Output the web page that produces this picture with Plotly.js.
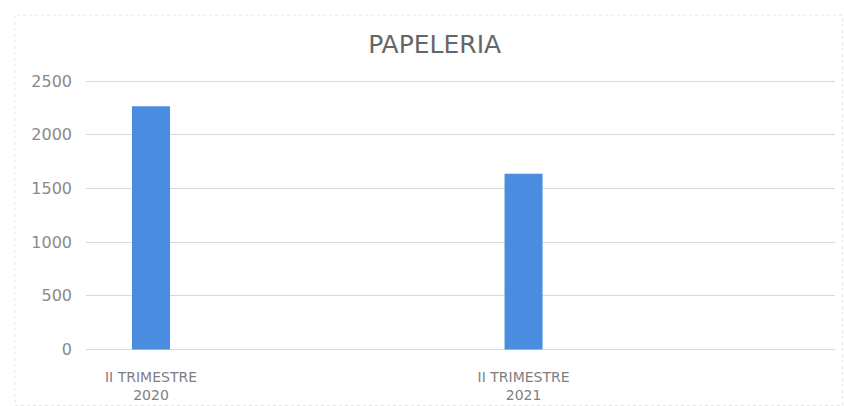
<!DOCTYPE html>
<html>
<head>
<meta charset="utf-8">
<script src="https://cdn.plot.ly/plotly-3.0.1.min.js"></script>
<style>html,body{margin:0;padding:0;background:#fff;}#chart{width:844px;height:406px;}</style>
</head>
<body>
<div id="chart"></div>
<script>
const categories = ['II TRIMESTRE<br>2020', 'II TRIMESTRE<br>2021'];
const values = [2265, 1637];
const yTicks = [0, 500, 1000, 1500, 2000, 2500];
const chartTitle = 'PAPELERIA';

const trace = {
  type: 'bar',
  x: categories,
  y: values,
  width: 0.102,
  marker: {color: '#4a8de0'},
  hoverinfo: 'x+y'
};

const layout = {
  width: 844,
  height: 406,
  paper_bgcolor: '#ffffff',
  plot_bgcolor: '#ffffff',
  margin: {l: 86, r: 9, t: 80, b: 56},
  showlegend: false,
  title: {
    text: chartTitle,
    font: {family: 'DejaVu Sans', size: 25, color: '#666666'},
    x: 0.515, xref: 'container', xanchor: 'center',
    y: 0.892, yref: 'container', yanchor: 'middle'
  },
  xaxis: {
    type: 'category',
    range: [-0.1745, 1.836],
    showgrid: false,
    zeroline: false,
    showline: false,
    ticks: '',
    ticklabelstandoff: 17,
    tickfont: {family: 'DejaVu Sans', size: 14, color: '#808080'}
  },
  yaxis: {
    range: [-5, 2510],
    tickvals: yTicks,
    ticktext: yTicks.map(String),
    showgrid: true,
    gridcolor: '#d9d9d9',
    gridwidth: 1,
    zeroline: true,
    zerolinecolor: '#d9d9d9',
    zerolinewidth: 1,
    showline: false,
    ticks: '',
    ticklabelstandoff: 13,
    tickfont: {family: 'DejaVu Sans', size: 16, color: '#8a8a8a'}
  },
  shapes: [{
    type: 'rect', xref: 'paper', yref: 'paper',
    x0: -0.095, x1: 1.01, y0: -0.205, y1: 1.24,
    line: {color: '#e6e6e6', width: 1, dash: 'dot'}
  }]
};

Plotly.newPlot('chart', [trace], layout, {displayModeBar: false, staticPlot: true});
</script>
</body>
</html>
